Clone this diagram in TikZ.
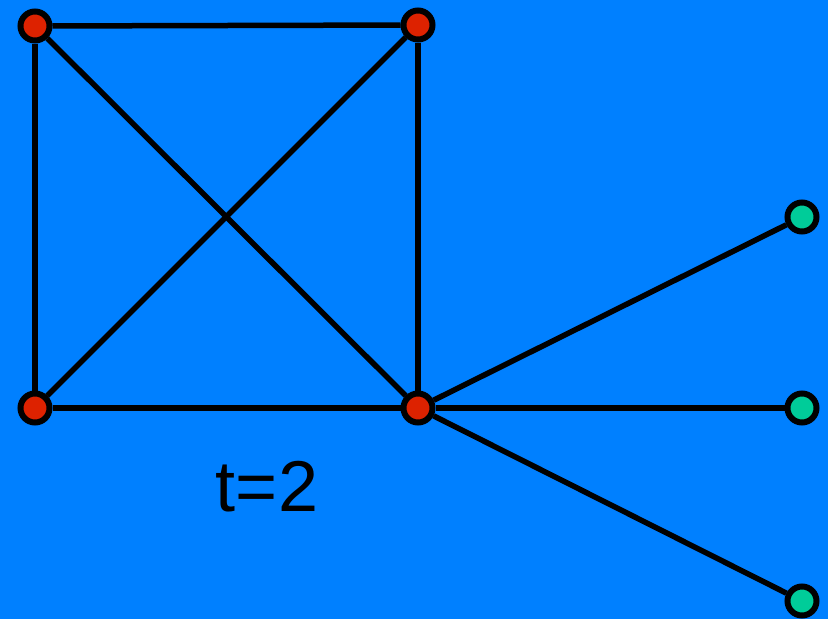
\documentclass[tikz,border=0pt]{standalone}
\usepackage{fontspec}
\setmainfont{Liberation Sans}
\definecolor{bg}{HTML}{0080FF}
\definecolor{vred}{HTML}{DD2200}
\definecolor{vgreen}{HTML}{00CC99}
\begin{document}
\begin{tikzpicture}[x=1pt,y=-1pt,
  vtx/.style={circle,draw=black,line width=6pt,minimum size=29pt,inner sep=0pt},
  redv/.style={vtx,fill=vred},
  greenv/.style={vtx,fill=vgreen},
  edge/.style={draw=black,line width=5.5pt}]
\fill[bg] (0,0) rectangle (828,619);
\useasboundingbox (0,0) rectangle (828,619);
\node[redv] (a) at (35,26) {};
\node[redv] (b) at (418,25) {};
\node[redv] (c) at (35,408) {};
\node[redv] (d) at (418,408) {};
\node[greenv] (e) at (802,217) {};
\node[greenv] (f) at (802,408) {};
\node[greenv] (g) at (802,601) {};
\draw[edge] (a) -- (b);
\draw[edge] (a) -- (c);
\draw[edge] (a) -- (d);
\draw[edge] (b) -- (c);
\draw[edge] (b) -- (d);
\draw[edge] (c) -- (d);
\draw[edge] (d) -- (e);
\draw[edge] (d) -- (f);
\draw[edge] (d) -- (g);
\node[anchor=base,font=\fontsize{72}{80}\selectfont,inner sep=0pt] (t) at (267,511) {t=2};
\end{tikzpicture}
\end{document}
